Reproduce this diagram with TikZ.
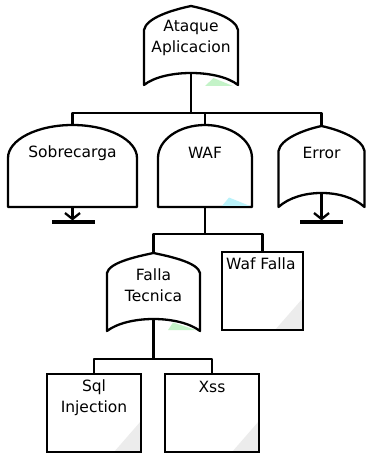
\documentclass[tikz,border=0pt]{standalone}
\usepackage{fontspec}
\setmainfont{DejaVu Sans}
\usetikzlibrary{arrows.meta}
\definecolor{mintfill}{RGB}{196,243,200}
\definecolor{cyanfill}{RGB}{186,242,250}
\definecolor{cornerfill}{RGB}{236,236,236}
\tikzset{
  gate/.style={draw=black, line width=2.3pt, fill=white, line join=round},
  evbox/.style={draw=black, line width=2.3pt, fill=white},
  wire/.style={draw=black, line width=2.3pt, line join=round},
  label/.style={font=\fontsize{15.5}{21}\selectfont, align=center, inner sep=0pt},
  tipbar/.style={draw=black, line width=3.4pt},
  tiparrow/.style={wire, -{Straight Barb[length=6pt,width=15pt,line width=2.3pt]}}
}
\begin{document}
\begin{tikzpicture}[x=1pt,y=-1pt]
\useasboundingbox (0,0) rectangle (366,454);

% ---- anchor points of the gates and events ----
\coordinate (ataque-bot) at (191,73);
\coordinate (sob-top) at (72.5,125);
\coordinate (sob-bot) at (72.5,207);
\coordinate (waf-top) at (205,125);
\coordinate (waf-bot) at (205,207);
\coordinate (err-top) at (321.5,126);
\coordinate (err-bot) at (321.5,193);
\coordinate (falla-top) at (153.5,253);
\coordinate (falla-bot) at (153.5,319);
\coordinate (waffalla-top) at (262.5,252);
\coordinate (sql-top) at (94,374);
\coordinate (xss-top) at (212,374);
\coordinate (bus1) at (191,113);
\coordinate (bus2) at (205,234);
\coordinate (bus3) at (153.5,359);
\coordinate (sob-end) at (72.5,220.5);
\coordinate (err-end) at (321.5,220.5);

% ---- connectors ----
\draw[wire] (ataque-bot) -- (bus1);
\draw[wire] (sob-top) |- (bus1) -| (err-top);
\draw[wire] (bus1 -| waf-top) -- (waf-top);
\draw[wire] (waf-bot) -- (bus2);
\draw[wire] (falla-top) |- (bus2) -| (waffalla-top);
\draw[wire] (falla-bot) -- (bus3);
\draw[wire] (sql-top) |- (bus3) -| (xss-top);

% ---- top OR gate ----
\fill[mintfill] (205,86) -- (213.5,78) -- (233,86) -- cycle;
\path[gate] (144,85) -- (144,30) .. controls (146,18) and (172,10) .. (191,6)
  .. controls (210,10) and (236,18) .. (238,30) -- (238,85)
  .. controls (218,69) and (164,69) .. (144,85) -- cycle;
\node[label] (ataque) at (191,38) {Ataque\\Aplicacion};

% ---- Sobrecarga (AND gate, undeveloped end) ----
\path[gate] (8,207) -- (8,158) .. controls (8,139.8) and (36.9,125) .. (72.5,125)
  .. controls (108.1,125) and (137,139.8) .. (137,158) -- (137,207) -- cycle;
\node[label] (sob) at (72.5,153) {Sobrecarga};
\draw[tiparrow] (sob-bot) -- (sob-end);
\draw[tipbar] (52,222) -- (95,222);

% ---- WAF (AND gate) ----
\path[gate] (158,207) -- (158,158) .. controls (158,139.8) and (179.1,125) .. (205,125)
  .. controls (230.9,125) and (252,139.8) .. (252,158) -- (252,207) -- cycle;
\fill[cyanfill] (222,206) -- (229,197.5) -- (250,206) -- cycle;
\draw[black, line width=2.3pt] (158,207) -- (252,207);
\node[label] (waf) at (205,153) {WAF};

% ---- Error (OR gate, undeveloped end) ----
\path[gate] (278.5,207) -- (278.5,151) .. controls (280.5,139) and (303,130) .. (321.5,126)
  .. controls (340,130) and (362.5,139) .. (364.5,151) -- (364.5,207)
  .. controls (344,188.3) and (299,188.3) .. (278.5,207) -- cycle;
\node[label] (err) at (321.5,153) {Error};
\draw[tiparrow] (err-bot) -- (err-end);
\draw[tipbar] (300,222) -- (343,222);

% ---- Falla Tecnica (OR gate) ----
\fill[mintfill] (168,330) -- (173,322.5) -- (196,330) -- cycle;
\path[gate] (107,331) -- (107,273) .. controls (109,263) and (134,257) .. (153.5,253)
  .. controls (173,257) and (198,263) .. (200,273) -- (200,331)
  .. controls (179,315) and (128,315) .. (107,331) -- cycle;
\node[label] (falla) at (153.5,285) {Falla\\Tecnica};

% ---- basic events ----
\path[evbox] (222,252) rectangle (303,330);
\fill[cornerfill] (303,298) -- (303,330) -- (275,330) -- cycle;
\draw[black, line width=2.3pt] (222,252) rectangle (303,330);
\node[label, anchor=west] (waffalla) at (226,264) {Waf Falla};

\path[evbox] (47,374) rectangle (141,452);
\fill[cornerfill] (141,421) -- (141,452) -- (114,452) -- cycle;
\draw[black, line width=2.3pt] (47,374) rectangle (141,452);
\node[label] (sql) at (94,397.5) {Sql\\Injection};

\path[evbox] (165,374) rectangle (259,452);
\fill[cornerfill] (259,421) -- (259,452) -- (232,452) -- cycle;
\draw[black, line width=2.3pt] (165,374) rectangle (259,452);
\node[label] (xss) at (212,387) {Xss};
\end{tikzpicture}
\end{document}
